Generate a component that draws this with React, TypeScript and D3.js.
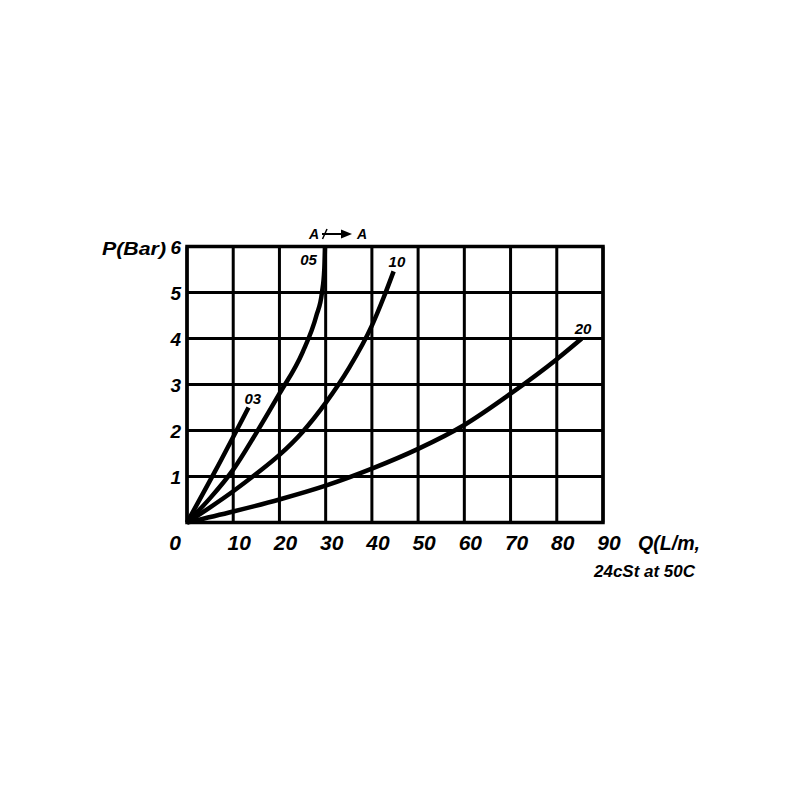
import React from "react";
import * as d3 from "d3";

const xTicks = [0, 10, 20, 30, 40, 50, 60, 70, 80, 90];
const yTicks = [0, 1, 2, 3, 4, 5, 6];
const xTickLabels = ["0", "10", "20", "30", "40", "50", "60", "70", "80", "90"];
const yTickLabels = ["", "1", "2", "3", "4", "5", "6"];

const curveNames = ["03", "05", "10", "20"];
const q03 = [0, 6, 13.3];
const p03 = [0, 1.1, 2.5];
const q05 = [0, 5, 10, 15, 20, 25, 28, 29.2, 29.7, 29.85];
const p05 = [0, 0.53, 1.15, 1.95, 2.8, 3.7, 4.5, 5.0, 5.5, 6];
const q10 = [0, 5, 10, 15, 20, 25, 30, 35, 40, 42.5, 44.7];
const p10 = [0, 0.33, 0.68, 1.06, 1.47, 1.97, 2.6, 3.35, 4.28, 4.88, 5.46];
const q20 = [0, 10, 20, 30, 40, 50, 60, 70, 80, 85.4];
const p20 = [0, 0.24, 0.5, 0.8, 1.17, 1.6, 2.12, 2.8, 3.55, 4];

const labelOffsets: Record<string, [number, number, string]> = {
  "03": [-4, -4, "start"],
  "05": [-8, 18, "end"],
  "10": [-5, -4, "start"],
  "20": [-7, -5, "start"],
};

const FONT = "'Liberation Sans', Arial, sans-serif";

export default function App() {
  const x = d3.scaleLinear().domain([0, 90]).range([187, 603]);
  const y = d3.scaleLinear().domain([0, 6]).range([522.5, 246.5]);

  const series = [
    { name: curveNames[0], q: q03, p: p03 },
    { name: curveNames[1], q: q05, p: p05 },
    { name: curveNames[2], q: q10, p: p10 },
    { name: curveNames[3], q: q20, p: p20 },
  ];

  const line = d3
    .line<[number, number]>()
    .x((d) => x(d[0]))
    .y((d) => y(d[1]))
    .curve(d3.curveMonotoneX);

  const textStyle = {
    fontFamily: FONT,
    fontWeight: "bold" as const,
    fontStyle: "italic" as const,
    fill: "#000",
  };

  return (
    <svg
      width={800}
      height={800}
      style={{ position: "absolute", left: 0, top: 0, background: "#fff" }}
    >
      <rect x={0} y={0} width={800} height={800} fill="#fff" />
      {/* grid */}
      {xTicks.map((t) => (
        <line
          key={"gx" + t}
          x1={x(t)}
          x2={x(t)}
          y1={y(0)}
          y2={y(6)}
          stroke="#000"
          strokeWidth={3}
        />
      ))}
      {yTicks.map((t) => (
        <line
          key={"gy" + t}
          x1={x(0)}
          x2={x(90)}
          y1={y(t)}
          y2={y(t)}
          stroke="#000"
          strokeWidth={3}
        />
      ))}
      <rect
        x={x(0)}
        y={y(6)}
        width={x(90) - x(0)}
        height={y(0) - y(6)}
        fill="none"
        stroke="#000"
        strokeWidth={3.5}
      />

      {/* curves */}
      {series.map((s) => {
        const pts = s.q.map((q, i) => [q, s.p[i]] as [number, number]);
        return (
          <path
            key={s.name}
            d={line(pts) || ""}
            fill="none"
            stroke="#000"
            strokeWidth={4.5}
            strokeLinecap="butt"
          />
        );
      })}

      {/* curve labels */}
      {series.map((s) => {
        const n = s.q.length - 1;
        const [dx, dy, anchor] = labelOffsets[s.name];
        return (
          <text
            key={"l" + s.name}
            x={x(s.q[n]) + dx}
            y={y(s.p[n]) + dy}
            textAnchor={anchor as any}
            fontSize={15}
            style={textStyle}
          >
            {s.name}
          </text>
        );
      })}

      {/* x tick labels */}
      {xTicks.map((t, i) => (
        <text
          key={"xt" + t}
          x={t === 0 ? x(t) - 12 : x(t) + 6}
          y={550}
          textAnchor="middle"
          fontSize={21}
          style={textStyle}
        >
          {xTickLabels[i]}
        </text>
      ))}
      <text x={638} y={550} fontSize={20} textLength={62} lengthAdjust="spacingAndGlyphs" style={textStyle}>
        Q(L/m,
      </text>
      <text x={594} y={577} fontSize={16} textLength={101} lengthAdjust="spacingAndGlyphs" style={textStyle}>
        24cSt at 50C
      </text>

      {/* y tick labels */}
      {yTicks.map((t, i) =>
        yTickLabels[i] ? (
          <text
            key={"yt" + t}
            x={181}
            y={y(t) + 7}
            textAnchor="end"
            fontSize={19}
            style={textStyle}
          >
            {yTickLabels[i]}
          </text>
        ) : null
      )}
      <text x={102} y={y(6) + 8} fontSize={19} textLength={64} lengthAdjust="spacingAndGlyphs" style={textStyle}>
        P(Bar)
      </text>

      {/* A -> A annotation */}
      <text x={309} y={238.5} fontSize={14} style={textStyle}>
        A
      </text>
      <line x1={322} y1={234} x2={343} y2={234} stroke="#000" strokeWidth={2} />
      <line x1={322.5} y1={239} x2={327} y2={229} stroke="#000" strokeWidth={1.5} />
      <path d="M341,229.5 L352,234 L341,238.5 Z" fill="#000" />
      <text x={357} y={238.5} fontSize={14} style={textStyle}>
        A
      </text>
    </svg>
  );
}
